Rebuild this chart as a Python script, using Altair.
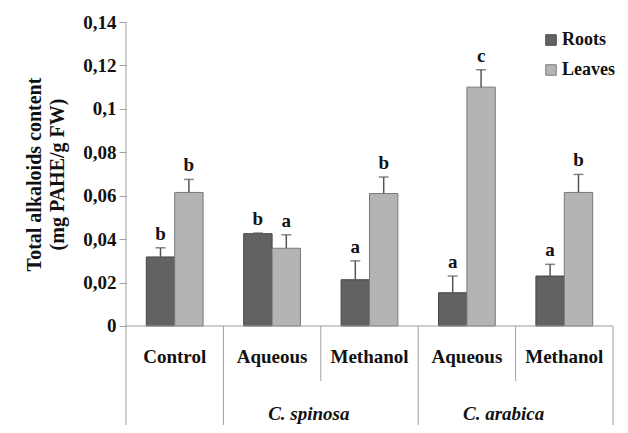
import altair as alt
import pandas as pd

# ---- data ----
groups = ["Control", "C. spinosa Aqueous", "C. spinosa Methanol",
          "C. arabica Aqueous", "C. arabica Methanol"]
sub_labels = ["Control", "Aqueous", "Methanol", "Aqueous", "Methanol"]
species = ["C. spinosa", "C. arabica"]
species_pos = [2.0, 4.0]          # centre of the two-group spans
sub_pos = [0.5, 1.5, 2.5, 3.5, 4.5]
full_dividers = [1, 3, 5]
short_dividers = [2, 4]

parts = ["Roots", "Leaves"]
roots = [0.0318, 0.0425, 0.0213, 0.0153, 0.0230]
roots_err = [0.0042, 0.0003, 0.0087, 0.0077, 0.0054]
leaves = [0.0615, 0.0358, 0.0610, 0.1100, 0.0615]
leaves_err = [0.0060, 0.0062, 0.0076, 0.0080, 0.0083]
roots_letters = ["b", "b", "a", "a", "a"]
leaves_letters = ["b", "a", "b", "c", "b"]
yticks = [0, 0.02, 0.04, 0.06, 0.08, 0.10, 0.12, 0.14]

rows = []
for i, g in enumerate(groups):
    rows.append(dict(group=g, part="Roots", value=roots[i],
                     top=roots[i] + roots_err[i], letter=roots_letters[i]))
    rows.append(dict(group=g, part="Leaves", value=leaves[i],
                     top=leaves[i] + leaves_err[i], letter=leaves_letters[i]))
df = pd.DataFrame(rows)

W, H = 487, 403
YMIN = -0.0456
SERIF = "Times New Roman"
GRID = "#a0a0a0"

xq_scale = alt.Scale(domain=[0, 5], nice=False, zero=False)
x = alt.X("group:N", sort=groups, axis=None,
          scale=alt.Scale(paddingInner=0, paddingOuter=0))
xoff = alt.XOffset("part:N", sort=parts,
                   scale=alt.Scale(paddingInner=0, paddingOuter=0.715))
yscale = alt.Scale(domain=[YMIN, 0.14], nice=False, zero=False)

yaxis = alt.Axis(values=yticks,
                 labelExpr="replace(format(datum.value, '.2~f'), '.', ',')",
                 domain=False, grid=False, ticks=True, tickSize=7,
                 tickColor=GRID, labelFont=SERIF, labelFontSize=19,
                 labelFontWeight="bold", labelColor="#111", labelPadding=3,
                 title=["Total alkaloids content", "(mg PAHE/g FW)"],
                 titleFont=SERIF, titleFontSize=20, titleFontWeight="bold",
                 titleColor="#111", titleAngle=-90, titleX=-92, titleY=152,
                 titleAlign="center", titleBaseline="middle", titleLineHeight=23)

bars = alt.Chart(df).mark_bar(strokeWidth=1).encode(
    x=x, xOffset=xoff,
    y=alt.Y("value:Q", scale=yscale, axis=yaxis),
    color=alt.Color("part:N", sort=parts,
                    scale=alt.Scale(domain=parts, range=["#626262", "#b4b4b4"]),
                    legend=alt.Legend(title=None, orient="none", legendX=416,
                                      legendY=9, symbolType="square",
                                      symbolSize=110, labelFont=SERIF,
                                      labelFontSize=18, labelFontWeight=700,
                                      labelColor="#111", rowPadding=12,
                                      symbolStrokeColor="#444",
                                      symbolStrokeWidth=1, labelOffset=2)),
    stroke=alt.Stroke("part:N", sort=parts,
                      scale=alt.Scale(domain=parts, range=["#454545", "#7a7a7a"]),
                      legend=None),
)

err = alt.Chart(df).mark_rule(color="#555", strokeWidth=1.5).encode(
    x=x, xOffset=xoff, y=alt.Y("value:Q", scale=yscale), y2="top:Q")
caps = alt.Chart(df).mark_tick(color="#555", thickness=1.5, size=10).encode(
    x=x, xOffset=xoff, y=alt.Y("top:Q", scale=yscale))
letters = alt.Chart(df).mark_text(font=SERIF, fontSize=19, fontWeight="bold",
                                  baseline="bottom", dy=-4, color="#111").encode(
    x=x, xOffset=xoff, y=alt.Y("top:Q", scale=yscale), text="letter:N")

# ---- axis lines and category table below ----
xline = alt.Chart(pd.DataFrame({"a": [0], "b": [5]})).mark_rule(color=GRID).encode(
    x=alt.X("a:Q", scale=xq_scale, axis=None), x2="b:Q", y=alt.datum(0))
yline = alt.Chart(pd.DataFrame({"pos": [0]})).mark_rule(color=GRID).encode(
    x=alt.X("pos:Q", scale=xq_scale, axis=None),
    y=alt.datum(0.14), y2=alt.value(H))
full = alt.Chart(pd.DataFrame({"pos": full_dividers})).mark_rule(color=GRID).encode(
    x=alt.X("pos:Q", scale=xq_scale, axis=None),
    y=alt.datum(0), y2=alt.value(H))
short = alt.Chart(pd.DataFrame({"pos": short_dividers})).mark_rule(color=GRID).encode(
    x=alt.X("pos:Q", scale=xq_scale, axis=None),
    y=alt.datum(0), y2=alt.value(359))
row1 = alt.Chart(pd.DataFrame({"pos": sub_pos, "label": sub_labels})).mark_text(
    font=SERIF, fontSize=19, fontWeight="bold", color="#111", baseline="middle"
).encode(x=alt.X("pos:Q", scale=xq_scale, axis=None), y=alt.value(335),
         text="label:N")
row2 = alt.Chart(pd.DataFrame({"pos": species_pos, "label": species})).mark_text(
    font=SERIF, fontSize=19, fontWeight="bold", fontStyle="italic",
    color="#111", baseline="middle", dx=-12
).encode(x=alt.X("pos:Q", scale=xq_scale, axis=None), y=alt.value(392),
         text="label:N")

chart = alt.layer(bars, err, caps, letters, xline, yline, full, short, row1, row2
).resolve_scale(x="independent").properties(
    width=W, height=H,
    padding={"left": 118, "top": 14, "right": 5, "bottom": 0},
    autosize=alt.AutoSizeParams(type="none"),
    background="white",
).configure(font=SERIF).configure_legend(labelFontWeight="bold"
).configure_view(stroke=None)

chart.save("out.html", embed_options={"renderer": "svg", "actions": False})
